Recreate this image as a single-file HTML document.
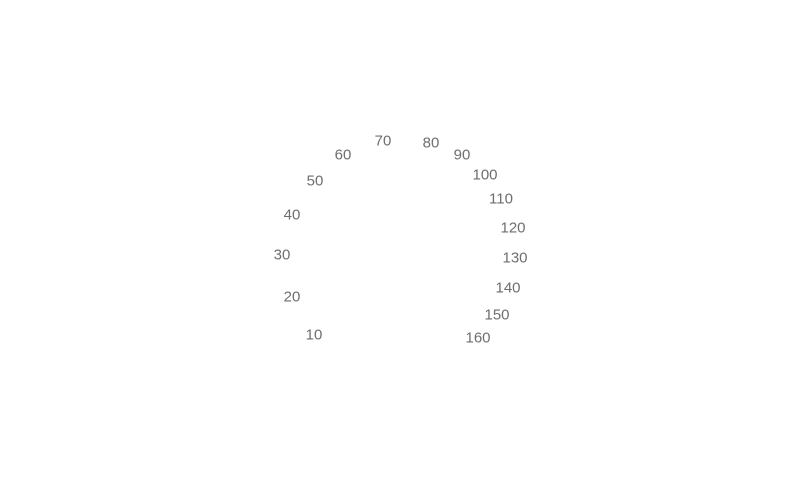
<!DOCTYPE html>
<html><head><meta charset="utf-8">
<style>
html,body{margin:0;padding:0;background:#fff;}
#chart{position:relative;width:800px;height:480px;overflow:hidden;font-family:"Liberation Sans","DejaVu Sans",sans-serif;}
.lbl{position:absolute;font-size:15px;color:#6e6e6e;transform:translate(-50%,-50%);white-space:nowrap;}
</style></head>
<body>
<div id="chart"></div>
<script>
const tickLabels = ["10","20","30","40","50","60","70","80","90","100","110","120","130","140","150","160"];
const labelX = [314,292,282,292,315,343,383,431,462,485,501,513,515,508,497,478];
const labelY = [335,297,255,215,181,155,141,143,155,175,199,228,258,288,315,338];
const chart = document.getElementById('chart');
tickLabels.forEach((t,i)=>{
  const el = document.createElement('div');
  el.className = 'lbl';
  el.textContent = t;
  el.style.left = labelX[i] + 'px';
  el.style.top = labelY[i] + 'px';
  
  
  chart.appendChild(el);
});
</script>
</body></html>
